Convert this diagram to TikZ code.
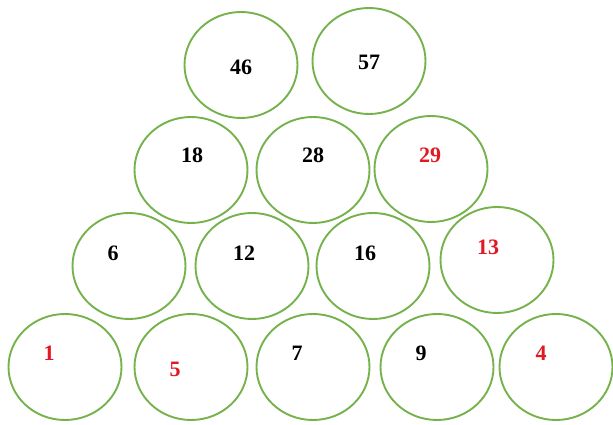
\documentclass[tikz,border=0pt]{standalone}
\usepackage{fontspec}
\setmainfont{Liberation Serif}
\definecolor{ringgreen}{RGB}{118,178,76}
\definecolor{numred}{RGB}{225,25,35}
\tikzset{
  ring/.style={draw=ringgreen, line width=1.9pt, fill=white, ellipse, minimum width=113pt, minimum height=106pt},
  num/.style={font=\fontsize{22}{24}\selectfont\bfseries, text=black},
  rednum/.style={num, text=numred}
}
\usetikzlibrary{shapes.geometric}
\begin{document}
\begin{tikzpicture}[x=1pt,y=1pt]
\useasboundingbox (0,0) rectangle (613,425);
% top row
\node[ring] (c46) at (241,360) {};
\node[ring] (c57) at (369,364) {};
% second row
\node[ring] (c18) at (191,255) {};
\node[ring] (c28) at (313,255) {};
\node[ring] (c29) at (431,256) {};
% third row
\node[ring] (c6) at (129,159) {};
\node[ring] (c12) at (252,159) {};
\node[ring] (c16) at (373,159) {};
\node[ring] (c13) at (497,165) {};
% bottom row
\node[ring] (c1) at (65,58) {};
\node[ring] (c5) at (191,58) {};
\node[ring] (c7) at (313,58) {};
\node[ring] (c9) at (437,58) {};
\node[ring] (c4) at (556,58) {};
% labels
\node[num] (t46) at (241,358) {46};
\node[num] (t57) at (369,363) {57};
\node[num] (t18) at (192,270) {18};
\node[num] (t28) at (313,270) {28};
\node[rednum] (t29) at (430,270) {29};
\node[num] (t6) at (113,172) {6};
\node[num] (t12) at (244,172) {12};
\node[num] (t16) at (365,172) {16};
\node[rednum] (t13) at (488,178) {13};
\node[rednum] (t1) at (49,72) {1};
\node[rednum] (t5) at (175,56) {5};
\node[num] (t7) at (297,72) {7};
\node[num] (t9) at (421,72) {9};
\node[rednum] (t4) at (541,72) {4};
\end{tikzpicture}
\end{document}
